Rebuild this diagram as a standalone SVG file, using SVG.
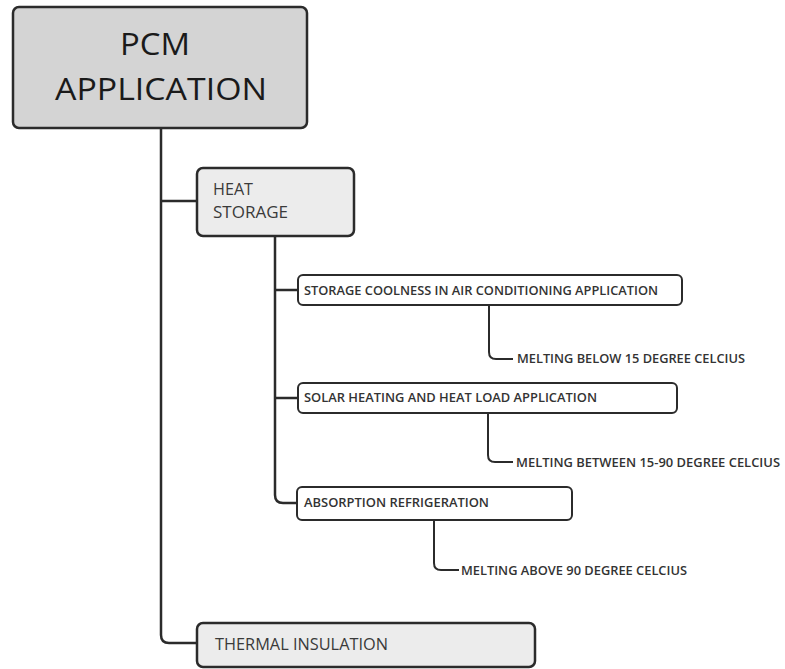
<svg xmlns="http://www.w3.org/2000/svg" width="785" height="669" viewBox="0 0 785 669">
<style>
.box{stroke:#2b2b2b;stroke-width:2.5}
.sm{fill:#fff;stroke:#2b2b2b;stroke-width:2}
.c{fill:none;stroke:#2b2b2b;stroke-width:2.5}
.c2{fill:none;stroke:#2b2b2b;stroke-width:2}
.big{font-family:"Open Sans","Liberation Sans",sans-serif;font-weight:500;fill:#1a1a1a}
.mid{font-family:"Open Sans","Liberation Sans",sans-serif;font-weight:500;fill:#3a3a3a}
.s{font-family:"Open Sans","Liberation Sans",sans-serif;font-size:12px;font-weight:600;fill:#333}
</style>
<rect width="785" height="669" fill="#fff"/>
<g id="connectors">
<path class="c" d="M161 128 V635 Q161 643 169 643 H197"/>
<path class="c" d="M161 201 H197"/>
<path class="c" d="M275 236 V495 Q275 503 283 503 H297"/>
<path class="c" d="M275 290 H298"/>
<path class="c" d="M275 398 H298"/>
<path class="c2" d="M489 305 V352 Q489 359 496 359 H513"/>
<path class="c2" d="M488 413 V455 Q488 462 495 462 H513"/>
<path class="c2" d="M434 520 V563 Q434 570 441 570 H459"/>
</g>
<g id="pcm">
<rect class="box" x="13" y="7" width="294" height="121" rx="6" fill="#d4d4d4"/>
<text class="big" x="155" y="55" font-size="31" text-anchor="middle" textLength="70" lengthAdjust="spacingAndGlyphs">PCM</text>
<text class="big" x="161" y="100" font-size="31" text-anchor="middle" textLength="212" lengthAdjust="spacingAndGlyphs">APPLICATION</text>
</g>
<g id="heat-storage">
<rect class="box" x="197" y="168" width="157" height="68" rx="6" fill="#ececec"/>
<text class="mid" x="213" y="195" font-size="16" textLength="40" lengthAdjust="spacingAndGlyphs">HEAT</text>
<text class="mid" x="213" y="218" font-size="16" textLength="75" lengthAdjust="spacingAndGlyphs">STORAGE</text>
</g>
<g id="storage-coolness">
<rect class="sm" x="298" y="275" width="384" height="30" rx="5"/>
<text class="s" x="304" y="295" textLength="354" lengthAdjust="spacingAndGlyphs">STORAGE COOLNESS IN AIR CONDITIONING APPLICATION</text>
</g>
<g id="melting-below">
<text class="s" x="517" y="363" textLength="228" lengthAdjust="spacingAndGlyphs">MELTING BELOW 15 DEGREE CELCIUS</text>
</g>
<g id="solar-heating">
<rect class="sm" x="298" y="383" width="379" height="30" rx="5"/>
<text class="s" x="304" y="402" textLength="293" lengthAdjust="spacingAndGlyphs">SOLAR HEATING AND HEAT LOAD APPLICATION</text>
</g>
<g id="melting-between">
<text class="s" x="516" y="467" textLength="264" lengthAdjust="spacingAndGlyphs">MELTING BETWEEN 15-90 DEGREE CELCIUS</text>
</g>
<g id="absorption">
<rect class="sm" x="297" y="487" width="275" height="33" rx="5"/>
<text class="s" x="304" y="507" textLength="185" lengthAdjust="spacingAndGlyphs">ABSORPTION REFRIGERATION</text>
</g>
<g id="melting-above">
<text class="s" x="461" y="575" textLength="226" lengthAdjust="spacingAndGlyphs">MELTING ABOVE 90 DEGREE CELCIUS</text>
</g>
<g id="thermal-insulation">
<rect class="box" x="197" y="623" width="338" height="44" rx="6" fill="#ececec"/>
<text class="mid" x="215" y="650" font-size="17" textLength="173" lengthAdjust="spacingAndGlyphs">THERMAL INSULATION</text>
</g>
</svg>
